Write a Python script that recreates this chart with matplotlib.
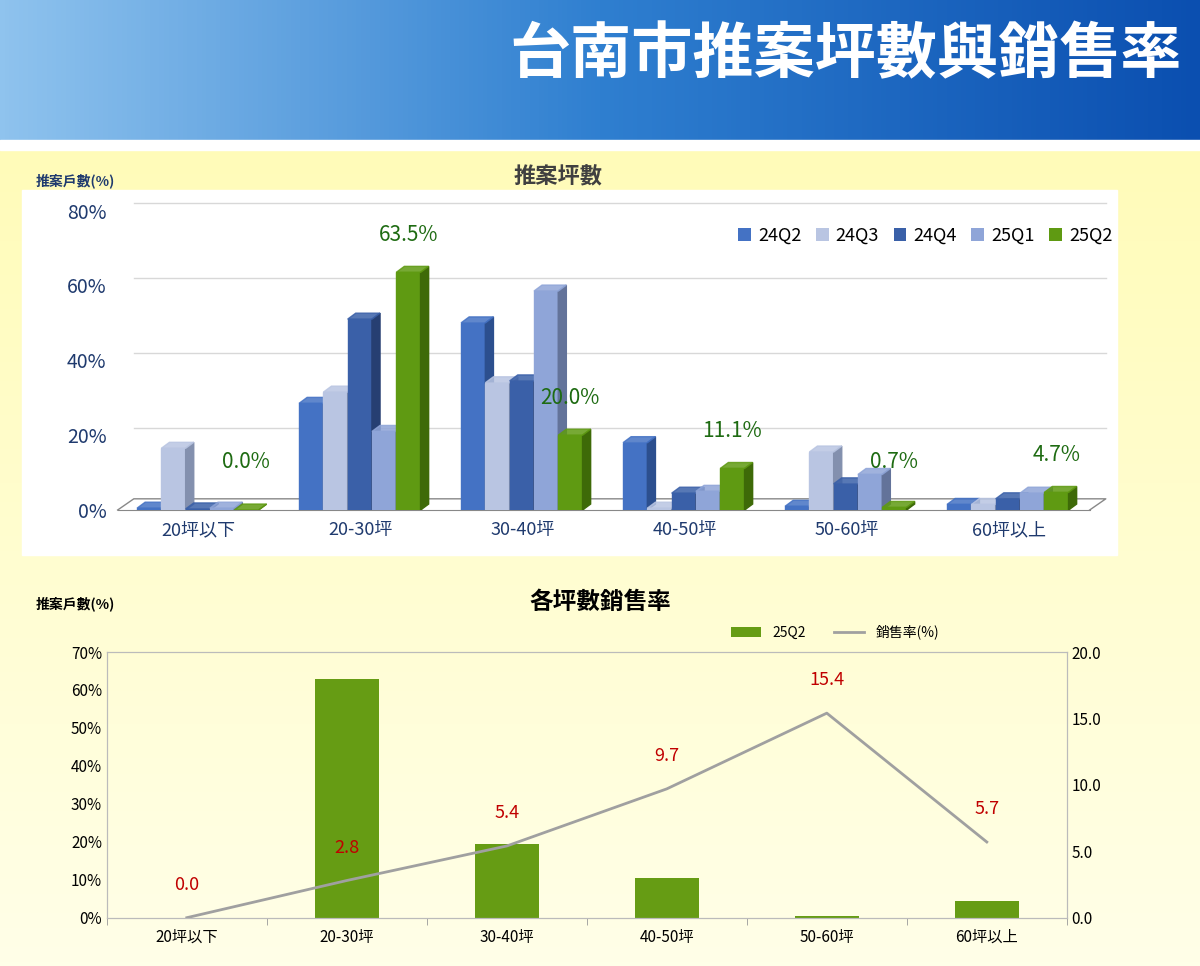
import numpy as np
import matplotlib.pyplot as plt
from matplotlib.patches import Polygon, Rectangle
from matplotlib.colors import LinearSegmentedColormap

plt.rcParams['font.family'] = ['Noto Sans CJK JP', 'Noto Sans CJK TC', 'Noto Sans CJK SC', 'DejaVu Sans']

# 資料
CATEGORIES = ['20坪以下', '20-30坪', '30-40坪', '40-50坪', '50-60坪', '60坪以上']
SERIES = ['24Q2', '24Q3', '24Q4', '25Q1', '25Q2']
V_24Q2 = [0.5, 28.5, 50.0, 18.0, 1.0, 1.5]
V_24Q3 = [16.5, 31.5, 34.0, 0.5, 15.5, 1.5]
V_24Q4 = [0.3, 51.0, 34.5, 4.5, 7.0, 3.0]
V_25Q1 = [0.5, 21.0, 58.5, 5.0, 9.5, 4.5]
V_25Q2 = [0.0, 63.5, 20.0, 11.1, 0.7, 4.7]
BOTTOM_BARS = [0.0, 63.0, 19.5, 10.5, 0.5, 4.5]
SALES_RATE = [0.0, 2.8, 5.4, 9.7, 15.4, 5.7]

COLORS = ['#4472C4', '#B9C5E2', '#3A60A8', '#8FA5D8', '#5F9A12']
DARK = ['#2C4F8E', '#8390AE', '#263F72', '#63739A', '#3E6A08']

fig = plt.figure(figsize=(12, 9.66), dpi=100)

# 背景
bg = fig.add_axes([0, 0, 1, 1], zorder=-10)
grad = np.linspace(0, 1, 256).reshape(-1, 1)
bg.imshow(grad, aspect='auto', cmap=LinearSegmentedColormap.from_list(
    'y', ['#FFFBB0', '#FFFFE8']), extent=[0, 1, 0, 1])
bg.set_axis_off()

# 標題橫幅
ban = fig.add_axes([0, 1 - 140 / 966, 1, 140 / 966], zorder=-5)
hg = np.linspace(0, 1, 256).reshape(1, -1)
ban.imshow(hg, aspect='auto', cmap=LinearSegmentedColormap.from_list(
    'b', ['#8FC3EE', '#2F7FD0', '#0B4FB0']), extent=[0, 1, 0, 1])
ban.set_xlim(0, 1); ban.set_ylim(0, 1); ban.set_axis_off()
ban.text(0.985, 0.6, '台南市推案坪數與銷售率', ha='right', va='center', color='white',
         fontsize=44, fontweight='bold')
fig.add_artist(Rectangle((0, 1 - 150 / 966), 1, 10 / 966, transform=fig.transFigure,
                         color='white', zorder=-4))

# 上圖白底
fig.add_artist(Rectangle((0.018, 0.425), 0.913, 0.378, transform=fig.transFigure,
                         color='white', zorder=-3))

ax = fig.add_axes([0.098, 0.472, 0.81, 0.31])
x = np.arange(len(CATEGORIES))
w = 0.15
dx, dy = 0.05, 1.6
all_vals = [V_24Q2, V_24Q3, V_24Q4, V_25Q1, V_25Q2]
for i, vals in enumerate(all_vals):
    for j, v in enumerate(vals):
        x0 = x[j] - 0.38 + i * w
        ax.add_patch(Rectangle((x0, 0), w, v, color=COLORS[i], zorder=3 + j))
        ax.add_patch(Polygon([(x0 + w, 0), (x0 + w + dx, dy), (x0 + w + dx, v + dy), (x0 + w, v)],
                             color=DARK[i], zorder=3 + j))
        ax.add_patch(Polygon([(x0, v), (x0 + dx, v + dy), (x0 + w + dx, v + dy), (x0 + w, v)],
                             color=COLORS[i], alpha=0.85, zorder=3 + j))
    ax.bar([0], [0], color=COLORS[i], label=SERIES[i])
for j, v in enumerate(V_25Q2):
    ax.text(x[j] - 0.38 + 4 * w + w / 2, max(v + 7, 10), f'{v:.1f}%', ha='center', va='bottom',
            color='#1E6B12', fontsize=15, zorder=20)
ax.set_xlim(-0.5, 5.5)
ax.set_ylim(0, 80)
ax.set_yticks([0, 20, 40, 60, 80])
ax.set_yticklabels(['0%', '20%', '40%', '60%', '80%'], fontsize=14, color='#1F3A6E')
ax.set_xticks(x)
ax.set_xticklabels(CATEGORIES, fontsize=13, color='#1F3A6E')
for y in [20, 40, 60, 80]:
    ax.plot([-0.4, 5.6], [y + 2, y + 2], color='#D8D8D8', lw=1, zorder=1, clip_on=False)
ax.plot([-0.5, -0.4, 5.6, 5.5], [0, 3, 3, 0], color='#888888', lw=1, zorder=1, clip_on=False)
for s in ['top', 'right', 'left']:
    ax.spines[s].set_visible(False)
ax.spines['bottom'].set_color('#888888')
ax.tick_params(length=0, pad=8)
ax.legend(loc='upper right', ncol=5, frameon=False, fontsize=13, handlelength=0.7,
          handletextpad=0.4, columnspacing=0.8, bbox_to_anchor=(1.04, 1.0))
fig.text(0.465, 0.81, '推案坪數', fontsize=16, fontweight='bold', color='#404040', ha='center')
fig.text(0.03, 0.808, '推案戶數(%)', fontsize=10, fontweight='bold', color='#1F3A6E')

# 下圖
ax2 = fig.add_axes([0.089, 0.05, 0.8, 0.275])
ax2.bar(x, BOTTOM_BARS, width=0.4, color='#669C14', label='25Q2')
ax2.set_ylim(0, 70)
ax2.set_xlim(-0.5, 5.5)
ax2.set_yticks(range(0, 71, 10))
ax2.set_yticklabels([f'{t}%' for t in range(0, 71, 10)], fontsize=11)
ax2.set_xticks(x)
ax2.set_xticklabels(CATEGORIES, fontsize=11)
ax2.set_xticks(np.arange(-0.5, 6, 1), minor=True)
ax2.tick_params(axis='x', which='minor', length=5, color='#999999')
ax2.tick_params(axis='x', which='major', length=0, pad=8)
ax2.tick_params(axis='y', length=0)
ax3 = ax2.twinx()
ax3.plot(x, SALES_RATE, color='#A0A0A0', lw=2, label='銷售率(%)')
ax3.set_ylim(0, 20)
ax3.set_yticks([0, 5, 10, 15, 20])
ax3.set_yticklabels([f'{t:.1f}' for t in [0, 5, 10, 15, 20]], fontsize=11)
ax3.tick_params(length=0)
for j, v in enumerate(SALES_RATE):
    ax3.text(x[j], v + 1.8, f'{v:.1f}', ha='center', va='bottom', color='#C00000', fontsize=13)
for a in (ax2, ax3):
    for s in a.spines.values():
        s.set_color('#BBBBBB')
    a.patch.set_alpha(0)
h1, l1 = ax2.get_legend_handles_labels()
h2, l2 = ax3.get_legend_handles_labels()
ax3.legend(h1 + h2, l1 + l2, loc='lower right', bbox_to_anchor=(0.88, 1.0), ncol=2,
           frameon=False, fontsize=10, handlelength=2.2, columnspacing=2)
fig.text(0.5, 0.37, '各坪數銷售率', fontsize=17, fontweight='bold', color='black', ha='center')
fig.text(0.03, 0.37, '推案戶數(%)', fontsize=10, fontweight='bold', color='black')

fig.savefig('out.png', dpi=100)
